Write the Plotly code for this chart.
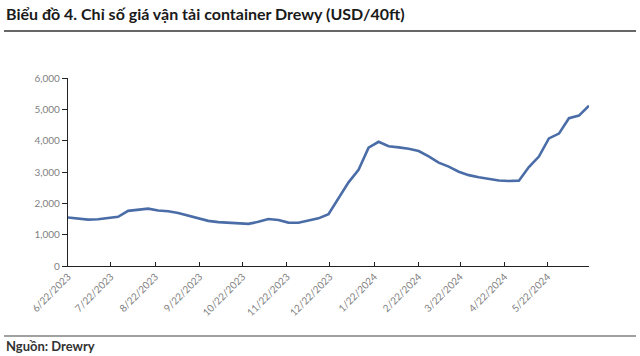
import plotly.graph_objects as go

dates = ["2023-06-22","2023-06-29","2023-07-06","2023-07-13","2023-07-20","2023-07-27",
         "2023-08-03","2023-08-10","2023-08-17","2023-08-24","2023-08-31","2023-09-07",
         "2023-09-14","2023-09-21","2023-09-28","2023-10-05","2023-10-12","2023-10-19",
         "2023-10-26","2023-11-02","2023-11-09","2023-11-16","2023-11-23","2023-11-30",
         "2023-12-07","2023-12-14","2023-12-21","2024-01-04","2024-01-11","2024-01-18",
         "2024-01-25","2024-02-01","2024-02-08","2024-02-15","2024-02-22","2024-02-29",
         "2024-03-07","2024-03-14","2024-03-21","2024-03-28","2024-04-04","2024-04-11",
         "2024-04-18","2024-04-25","2024-05-02","2024-05-09","2024-05-16","2024-05-23",
         "2024-05-30","2024-06-06","2024-06-13","2024-06-20"]
wci = [1550,1510,1480,1490,1530,1570,
       1760,1800,1830,1770,1745,1690,
       1600,1520,1440,1400,1385,1370,
       1345,1410,1500,1470,1385,1380,
       1460,1520,1656,2670,3072,3777,
       3964,3824,3786,3740,3670,3500,
       3300,3170,3010,2900,2830,2780,
       2730,2715,2724,3159,3493,4072,
       4226,4716,4801,5117]

tick_dates = ["2023-06-22","2023-07-22","2023-08-22","2023-09-22","2023-10-22","2023-11-22",
              "2023-12-22","2024-01-22","2024-02-22","2024-03-22","2024-04-22","2024-05-22"]
tick_labels = ["6/22/2023","7/22/2023","8/22/2023","9/22/2023","10/22/2023","11/22/2023",
               "12/22/2023","1/22/2024","2/22/2024","3/22/2024","4/22/2024","5/22/2024"]
y_ticks = [0,1000,2000,3000,4000,5000,6000]

title_text = "Biểu đồ 4. Chỉ số giá vận tải container Drewy (USD/40ft)"
source_text = "Nguồn: Drewry"

fig = go.Figure()
fig.add_trace(go.Scatter(x=dates, y=wci, mode="lines",
                         line=dict(color="#4A6DA7", width=2.6, shape="linear"),
                         hoverinfo="x+y", showlegend=False))

L, R, T, B = 68, 51, 78, 90
W, H = 640, 356
pw, ph = W - L - R, H - T - B

def px_x(px):
    return (px - L) / pw

def px_y(py):
    return (H - B - py) / ph

fig.update_layout(
    width=W, height=H,
    margin=dict(l=L, r=R, t=T, b=B),
    paper_bgcolor="white", plot_bgcolor="white",
    font=dict(family="Lato, Open Sans, sans-serif", color="#595959"),
    xaxis=dict(type="date", range=[dates[0], dates[-1]],
               tickvals=tick_dates, ticktext=tick_labels, tickangle=-45,
               tickfont=dict(size=10, color="#7f7f7f"),
               showgrid=False, zeroline=False,
               showline=True, linecolor="#222", linewidth=1,
               ticks="inside", ticklen=4, tickcolor="#222"),
    yaxis=dict(range=[0, 6000], tickvals=y_ticks, tickformat=",",
               tickfont=dict(size=10, color="#7f7f7f"),
               showgrid=False, zeroline=False,
               showline=True, linecolor="#222", linewidth=1.2,
               ticks="outside", ticklen=5, tickcolor="#222"),
    annotations=[
        dict(text="<b>" + title_text + "</b>", xref="paper", yref="paper",
             x=px_x(4), y=px_y(14), xanchor="left", yanchor="middle",
             showarrow=False, font=dict(size=16, color="#1a1a1a", family="Lato, sans-serif")),
        dict(text="<b>" + source_text + "</b>", xref="paper", yref="paper",
             x=px_x(4), y=px_y(346), xanchor="left", yanchor="middle",
             showarrow=False, font=dict(size=13, color="#333333", family="Lato, sans-serif")),
    ],
    shapes=[
        dict(type="line", xref="paper", yref="paper", x0=px_x(4), x1=px_x(636),
             y0=px_y(31), y1=px_y(31), line=dict(color="#333", width=1.5)),
        dict(type="line", xref="paper", yref="paper", x0=px_x(4), x1=px_x(636),
             y0=px_y(336), y1=px_y(336), line=dict(color="#444", width=1.2)),
    ],
)

fig.write_html("out.html", config={"displayModeBar": False},
               post_script="document.body.style.margin='0';")
